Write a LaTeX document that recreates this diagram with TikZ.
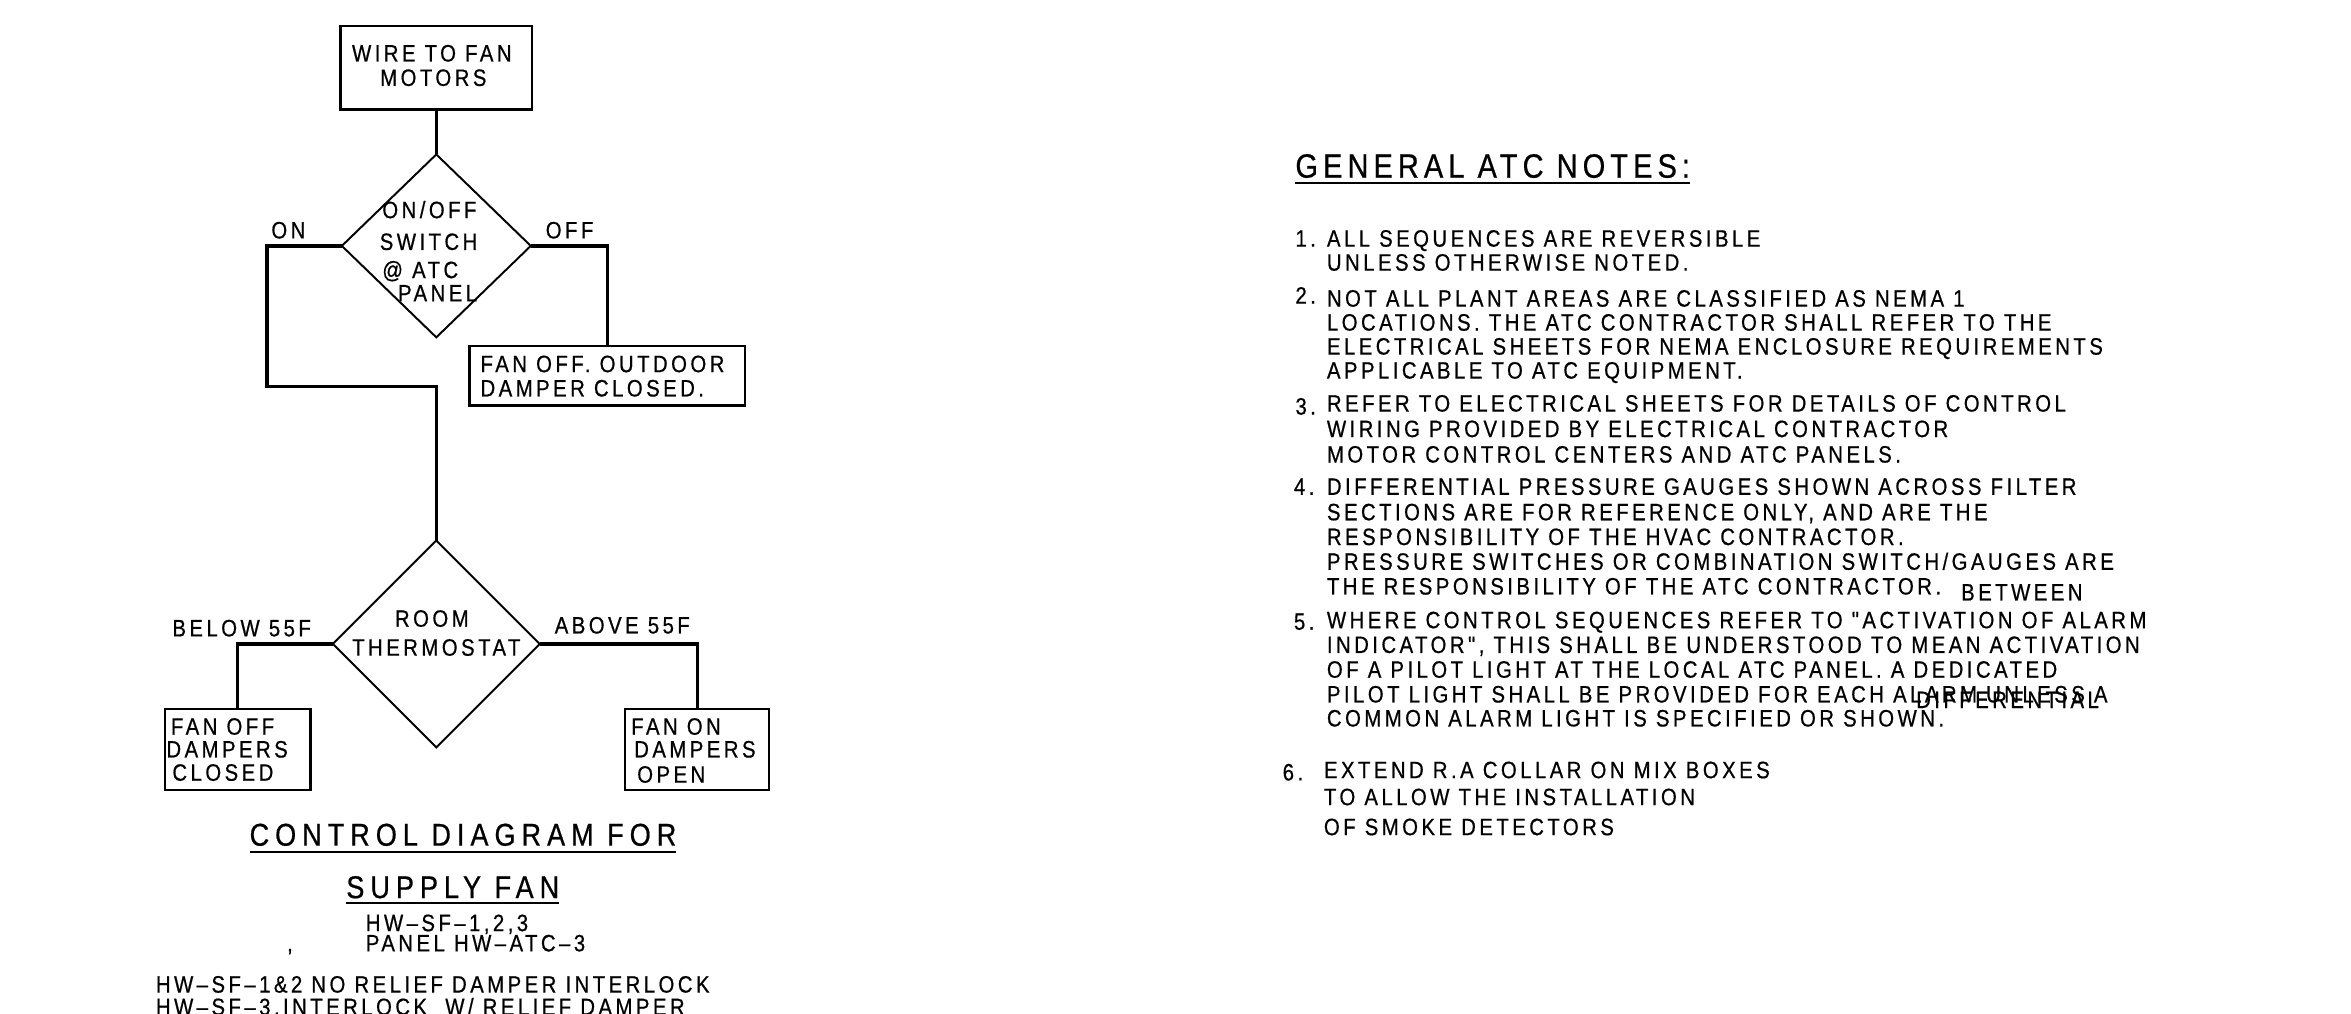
\documentclass[tikz,border=0pt]{standalone}
\usepackage{fontspec}
\setmainfont{Liberation Sans}
\newfontfamily\cadf[FakeStretch=0.86,LetterSpace=14.5,FakeBold=0.6]{Liberation Sans}
\newfontfamily\cadt[FakeStretch=0.86,LetterSpace=19,FakeBold=0.6]{Liberation Sans}
\newfontfamily\cadg[FakeStretch=0.86,LetterSpace=15,FakeBold=0.6]{Liberation Sans}
\usetikzlibrary{shapes.geometric}
\begin{document}
\begin{tikzpicture}[x=1pt,y=-1pt,
  txt/.style={inner sep=0pt, outer sep=0pt, anchor=base west, font=\cadf\fontsize{15.8}{15.8}\selectfont},
  ctxt/.style={txt, anchor=base},
  ttl/.style={inner sep=0pt, outer sep=0pt, anchor=base west, font=\cadt\fontsize{21}{21}\selectfont},
  gttl/.style={inner sep=0pt, outer sep=0pt, anchor=base west, font=\cadg\fontsize{22.5}{22.5}\selectfont},
  boxn/.style={draw, line width=1.6pt, rectangle, inner sep=0pt, outer sep=0pt},
  dia/.style={draw, line width=1.3pt, diamond, aspect=1, inner sep=0pt, outer sep=0pt},
  conn/.style={line width=2.2pt, line join=miter},
  uline/.style={line width=1.5pt}]
\useasboundingbox (0,0) rectangle (1568,676);
\fill[white] (0,0) rectangle (1568,676);
\clip (0,0) rectangle (1568,676);

% ---------- control diagram ----------
\node[boxn, minimum width=128pt, minimum height=55.5pt] (wire) at (291,45.2) {};
\node[ctxt] (wt1) at (288,41) {WIRE TO FAN};
\node[ctxt] (wt2) at (289,57.3) {MOTORS};

\node[dia, minimum width=126pt, minimum height=122pt] (sw) at (291,164) {};
\node[txt] (swt1) at (255,145.5) {ON/OFF};
\node[txt] (swt2) at (253.3,166.7) {SWITCH};
\node[txt] (swt3) at (255,185.5) {@ ATC};
\node[txt] (swt4) at (265.5,201) {PANEL};
\node[txt] (lon) at (181,159) {ON};
\node[txt] (loff) at (364,159) {OFF};

\node[boxn, minimum width=184pt, minimum height=39.5pt] (offbox) at (405,250.7) {};
\node[txt] (ot1) at (320.5,248.2) {FAN OFF. OUTDOOR};
\node[txt] (ot2) at (320.5,264.4) {DAMPER CLOSED.};

\node[dia, minimum width=138pt, minimum height=138pt] (th) at (291,429.5) {};
\node[ctxt] (tt1) at (288,418) {ROOM};
\node[ctxt] (tt2) at (291,437.3) {THERMOSTAT};
\node[txt] (lbelow) at (115,424.4) {BELOW 55F};
\node[txt] (labove) at (370,422.5) {ABOVE 55F};

\node[boxn, minimum width=97pt, minimum height=54pt] (lbox) at (158.5,500) {};
\node[txt] (lb1) at (114,490) {FAN OFF};
\node[txt] (lb2) at (111,505.2) {DAMPERS};
\node[txt] (lb3) at (115,520.7) {CLOSED};

\node[boxn, minimum width=96pt, minimum height=54pt] (rbox) at (465,500) {};
\node[txt] (rb1) at (421,490) {FAN ON};
\node[txt] (rb2) at (423,505.2) {DAMPERS};
\node[txt] (rb3) at (425,522) {OPEN};

\coordinate (c1) at (178,164);
\coordinate (c2) at (178,258);
\coordinate (c3) at (291,258);
\draw[conn] (wire.south) -- (sw.north);
\draw[conn] (sw.west) -- (c1) -- (c2) -- (c3) -- (th.north);
\draw[conn] (sw.east) -| (offbox.north);
\draw[conn] (th.west) -| (lbox.north);
\draw[conn] (th.east) -| (rbox.north);

% ---------- captions ----------
\node[ttl] (cap1) at (166.5,564) {CONTROL DIAGRAM FOR};
\draw[uline] ([yshift=-4pt]cap1.base west) -- ([yshift=-4pt]cap1.base east);
\node[ttl] (cap2) at (231,599) {SUPPLY FAN};
\draw[uline] ([yshift=-3.5pt]cap2.base west) -- ([yshift=-3.5pt]cap2.base east);
\node[txt] (cap3) at (244,621) {HW–SF–1,2,3};
\node[txt] (cap4) at (244,634.5) {PANEL HW–ATC–3};
\node[txt] (capc) at (191.5,634.5) {,};
\node[txt] (cap5) at (104,662) {HW–SF–1\&2 NO RELIEF DAMPER INTERLOCK};
\node[txt] (cap6) at (104,677) {HW–SF–3,INTERLOCK\ \ W/ RELIEF DAMPER};

% ---------- notes ----------
\node[gttl] (gn) at (864,118.5) {GENERAL ATC NOTES:};
\draw[uline] ([yshift=-3.5pt]gn.base west) -- ([yshift=-3.5pt]gn.base east);

\node[txt] (n1) at (864,164.5) {1.};
\node[txt] (n1a) at (885,164.5) {ALL SEQUENCES ARE REVERSIBLE};
\node[txt] (n1b) at (885,180.5) {UNLESS OTHERWISE NOTED.};

\node[txt] (n2) at (864,202.5) {2.};
\node[txt] (n2a) at (885,204.5) {NOT ALL PLANT AREAS ARE CLASSIFIED AS NEMA 1};
\node[txt] (n2b) at (885,220.5) {LOCATIONS. THE ATC CONTRACTOR SHALL REFER TO THE};
\node[txt] (n2c) at (885,236.5) {ELECTRICAL SHEETS FOR NEMA ENCLOSURE REQUIREMENTS};
\node[txt] (n2d) at (885,252.5) {APPLICABLE TO ATC EQUIPMENT.};

\node[txt] (n3) at (864,276.5) {3.};
\node[txt] (n3a) at (885,274.5) {REFER TO ELECTRICAL SHEETS FOR DETAILS OF CONTROL};
\node[txt] (n3b) at (885,291.5) {WIRING PROVIDED BY ELECTRICAL CONTRACTOR};
\node[txt] (n3c) at (885,308.5) {MOTOR CONTROL CENTERS AND ATC PANELS.};

\node[txt] (n4) at (863,330) {4.};
\node[txt] (n4a) at (885,330) {DIFFERENTIAL PRESSURE GAUGES SHOWN ACROSS FILTER};
\node[txt] (n4b) at (885,347) {SECTIONS ARE FOR REFERENCE ONLY, AND ARE THE};
\node[txt] (n4c) at (885,363.5) {RESPONSIBILITY OF THE HVAC CONTRACTOR.};
\node[txt] (n4d) at (885,380) {PRESSURE SWITCHES OR COMBINATION SWITCH/GAUGES ARE};
\node[txt] (n4e) at (885,396.5) {THE RESPONSIBILITY OF THE ATC CONTRACTOR.};
\node[txt] (nbet) at (1308,400.5) {BETWEEN};

\node[txt] (n5) at (863,420) {5.};
\node[txt] (n5a) at (885,419) {WHERE CONTROL SEQUENCES REFER TO "ACTIVATION OF ALARM};
\node[txt] (n5b) at (885,435.5) {INDICATOR", THIS SHALL BE UNDERSTOOD TO MEAN ACTIVATION};
\node[txt] (n5c) at (885,452) {OF A PILOT LIGHT AT THE LOCAL ATC PANEL. A DEDICATED};
\node[txt] (n5d) at (885,468.5) {PILOT LIGHT SHALL BE PROVIDED FOR EACH ALARM UNLESS A};
\node[txt] (n5e) at (885,484.5) {COMMON ALARM LIGHT IS SPECIFIED OR SHOWN.};
\node[txt] (ndif) at (1278,472.2) {DIFFERENTIAL};

\node[txt] (n6) at (855.5,520.5) {6.};
\node[txt] (n6a) at (883,519) {EXTEND R.A COLLAR ON MIX BOXES};
\node[txt] (n6b) at (883,537) {TO ALLOW THE INSTALLATION};
\node[txt] (n6c) at (883,557) {OF SMOKE DETECTORS};
\end{tikzpicture}
\end{document}
